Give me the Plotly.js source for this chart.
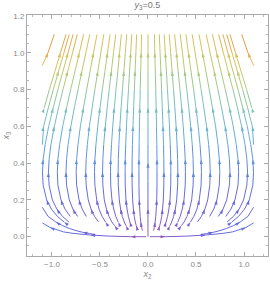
<!DOCTYPE html>
<html><head><meta charset="utf-8">
<script src="https://cdn.plot.ly/plotly-3.0.1.min.js"></script>
<style>html,body{margin:0;padding:0;background:#fff}#chart{width:270px;height:283px}</style>
</head><body><div id="chart"></div>
<script>
// x3 levels at which each streamline's x2 value is read (index i <-> levels[i])
const levels = [1.1,1.0,0.9,0.8,0.7,0.6,0.5,0.42,0.35,0.28,0.2,0.15,0.11,0.08,0.06,0.045,0.033,0.024,0.017,0.012];

// left half streamlines, x2 read at each level (flow goes up, toward index 0)
const leftB   = [-0.854,-0.911,-0.969,-1.027,-1.081];
const leftC   = [-0.820,-0.875,-0.931,-0.986,-1.038,-1.087,-1.100];
const leftU1  = [-0.780,-0.832,-0.885,-0.938,-0.987,-1.034,-1.071,-1.092,-1.099,-1.092,-1.055,-1.006,-0.943,-0.873];
const leftU2  = [-0.736,-0.785,-0.835,-0.885,-0.932,-0.975,-1.011,-1.030,-1.037,-1.030,-0.996,-0.949,-0.890,-0.824];
const leftU3  = [-0.670,-0.715,-0.760,-0.805,-0.848,-0.888,-0.920,-0.938,-0.944,-0.938,-0.906,-0.864,-0.810];
const leftU4  = [-0.606,-0.647,-0.688,-0.728,-0.767,-0.803,-0.832,-0.848,-0.854,-0.848,-0.820,-0.782,-0.733];
const leftU5  = [-0.531,-0.567,-0.603,-0.638,-0.672,-0.704,-0.729,-0.743,-0.748,-0.743,-0.718,-0.685,-0.642];
const leftU6  = [-0.460,-0.491,-0.522,-0.553,-0.582,-0.610,-0.632,-0.644,-0.648,-0.644,-0.622,-0.593,-0.556,-0.515];
const leftU7  = [-0.395,-0.421,-0.448,-0.475,-0.500,-0.523,-0.542,-0.553,-0.557,-0.553,-0.534,-0.510,-0.478,-0.442];
const leftU8  = [-0.336,-0.359,-0.381,-0.404,-0.425,-0.445,-0.461,-0.470,-0.473,-0.470,-0.455,-0.433,-0.406,-0.376,-0.348];
const leftU9  = [-0.277,-0.296,-0.314,-0.333,-0.351,-0.367,-0.380,-0.388,-0.390,-0.388,-0.375,-0.357,-0.335,-0.310];
const leftU10 = [-0.221,-0.236,-0.251,-0.266,-0.280,-0.293,-0.303,-0.309,-0.311,-0.309,-0.299,-0.285,-0.267,-0.247,-0.229];
const leftU11 = [-0.169,-0.180,-0.192,-0.203,-0.214,-0.224,-0.232,-0.237,-0.238,-0.237,-0.229,-0.218,-0.204,-0.189,-0.175];
const leftU12 = [-0.118,-0.126,-0.134,-0.142,-0.149,-0.156,-0.162,-0.165,-0.166,-0.165,-0.160,-0.152,-0.143,-0.132,-0.122,-0.113];
const leftU13 = [-0.067,-0.071,-0.076,-0.081,-0.085,-0.089,-0.092,-0.094,-0.094,-0.094,-0.091,-0.086,-0.081,-0.075,-0.069,-0.064,-0.058];

// right half streamlines
const rightB   = [0.854,0.911,0.969,1.027,1.081];
const rightC   = [0.820,0.875,0.931,0.986,1.038,1.087,1.100];
const rightU1  = [0.780,0.832,0.885,0.938,0.987,1.034,1.071,1.092,1.099,1.092,1.055,1.006,0.943,0.873];
const rightU2  = [0.736,0.785,0.835,0.885,0.932,0.975,1.011,1.030,1.037,1.030,0.996,0.949,0.890,0.824];
const rightU3  = [0.670,0.715,0.760,0.805,0.848,0.888,0.920,0.938,0.944,0.938,0.906,0.864,0.810];
const rightU4  = [0.606,0.647,0.688,0.728,0.767,0.803,0.832,0.848,0.854,0.848,0.820,0.782,0.733];
const rightU5  = [0.531,0.567,0.603,0.638,0.672,0.704,0.729,0.743,0.748,0.743,0.718,0.685,0.642];
const rightU6  = [0.460,0.491,0.522,0.553,0.582,0.610,0.632,0.644,0.648,0.644,0.622,0.593,0.556,0.515];
const rightU7  = [0.395,0.421,0.448,0.475,0.500,0.523,0.542,0.553,0.557,0.553,0.534,0.510,0.478,0.442];
const rightU8  = [0.336,0.359,0.381,0.404,0.425,0.445,0.461,0.470,0.473,0.470,0.455,0.433,0.406,0.376,0.348];
const rightU9  = [0.277,0.296,0.314,0.333,0.351,0.367,0.380,0.388,0.390,0.388,0.375,0.357,0.335,0.310];
const rightU10 = [0.221,0.236,0.251,0.266,0.280,0.293,0.303,0.309,0.311,0.309,0.299,0.285,0.267,0.247,0.229];
const rightU11 = [0.169,0.180,0.192,0.203,0.214,0.224,0.232,0.237,0.238,0.237,0.229,0.218,0.204,0.189,0.175];
const rightU12 = [0.118,0.126,0.134,0.142,0.149,0.156,0.162,0.165,0.166,0.165,0.160,0.152,0.143,0.132,0.122,0.113];
const rightU13 = [0.067,0.071,0.076,0.081,0.085,0.089,0.092,0.094,0.094,0.094,0.091,0.086,0.081,0.075,0.069,0.064,0.058];

// free streamlines, points listed in flow order
const leftAx = [-1.1,-1.041,-0.976],  leftAy = [0.93,1.0,1.1];
const rightAx = [1.1,1.041,0.976],    rightAy = [0.93,1.0,1.1];
const centerX = [0,0,0,0,0,0,0,0,0,0,0,0,0,0];
const centerY = [0,0.05,0.1,0.15,0.2,0.3,0.4,0.5,0.6,0.7,0.8,0.9,1.0,1.1];
const leftBottomX  = [-0.02,-0.18,-0.4,-0.6,-0.78,-0.88,-1.02,-1.1];
const leftBottomY  = [0,0,0.003,0.009,0.018,0.026,0.05,0.075];
const rightBottomX = [0.02,0.18,0.4,0.6,0.78,0.88,1.02,1.1];
const rightBottomY = [0,0,0.003,0.009,0.018,0.026,0.05,0.075];
const leftLongX  = [-0.55,-0.61,-0.68,-0.75,-0.82,-0.89,-0.96,-1.04,-1.1];
const leftLongY  = [0.012,0.017,0.024,0.033,0.045,0.06,0.08,0.11,0.16];
const rightLongX = [0.55,0.61,0.68,0.75,0.82,0.89,0.96,1.04,1.1];
const rightLongY = [0.012,0.017,0.024,0.033,0.045,0.06,0.08,0.11,0.16];

// colour stops for speed (slow -> fast)
const colorStops = [[0,'#a05cb8'],[0.12,'#7060d8'],[0.25,'#5a7ee6'],[0.4,'#64acdf'],[0.55,'#7cc4b4'],[0.68,'#aecb74'],[0.8,'#dcc258'],[0.9,'#eb9c44'],[1,'#ec6434']];

// ---------- build streamlines ----------
const lines = [];
function tableLine(xs, arrowIdx){
  const x=[], y=[];
  for(let i=xs.length-1;i>=0;i--){ x.push(xs[i]); y.push(levels[i]); }
  const n=xs.length; const arr=[];
  arrowIdx.forEach(i=>{ if(i<n) arr.push(n-1-i); });
  lines.push({x,y,arrows:arr});
}
const P=[1,4,7,10,13], Q=[2,5,8,11,14];
[[leftB,P],[leftC,Q],[leftU1,P],[leftU2,Q],[leftU3,P],[leftU4,Q],[leftU5,P],[leftU6,Q],[leftU7,P],[leftU8,Q],[leftU9,P],[leftU10,Q],[leftU11,P],[leftU12,Q],[leftU13,P],
 [rightB,P],[rightC,Q],[rightU1,P],[rightU2,Q],[rightU3,P],[rightU4,Q],[rightU5,P],[rightU6,Q],[rightU7,P],[rightU8,Q],[rightU9,P],[rightU10,Q],[rightU11,P],[rightU12,Q],[rightU13,P]]
 .forEach(d=>tableLine(d[0],d[1]));
lines.push({x:leftAx,y:leftAy,arrows:[1]});
lines.push({x:rightAx,y:rightAy,arrows:[1]});
lines.push({x:centerX,y:centerY,arrows:[3,6,9,12]});
lines.push({x:leftBottomX,y:leftBottomY,arrows:[1,3,6]});
lines.push({x:rightBottomX,y:rightBottomY,arrows:[1,3,6]});
lines.push({x:leftLongX,y:leftLongY,arrows:[2,6]});
lines.push({x:rightLongX,y:rightLongY,arrows:[2,6]});

function hex(c){return [parseInt(c.slice(1,3),16),parseInt(c.slice(3,5),16),parseInt(c.slice(5,7),16)];}
function colorAt(t){
  t=Math.max(0,Math.min(1,t));
  for(let i=1;i<colorStops.length;i++){
    if(t<=colorStops[i][0]){
      const a=colorStops[i-1], b=colorStops[i]; const f=(t-a[0])/(b[0]-a[0]);
      const ca=hex(a[1]), cb=hex(b[1]);
      return 'rgb('+ca.map((v,k)=>Math.round(v+(cb[k]-v)*f)).join(',')+')';
    }
  }
  return colorStops[colorStops.length-1][1];
}
function speedT(x,y){ const u=x*(1-2.9*y), v=3*y; return Math.sqrt(u*u+v*v)/4.2; }

const NB=48; const bins=[]; for(let i=0;i<NB;i++) bins.push({x:[],y:[]});
const ax=[], ay=[], aang=[], acol=[];
const xr=[-1.26,1.25], yr=[-0.105,1.205];
const W=270-27-2, H=283-15-27;
const sx=W/(xr[1]-xr[0]), sy=H/(yr[1]-yr[0]);
lines.forEach(L=>{
  for(let i=0;i<L.x.length-1;i++){
    const t=speedT((L.x[i]+L.x[i+1])/2,(L.y[i]+L.y[i+1])/2);
    const b=Math.min(NB-1,Math.floor(t*NB));
    bins[b].x.push(L.x[i],L.x[i+1],null); bins[b].y.push(L.y[i],L.y[i+1],null);
  }
  L.arrows.forEach(i=>{
    const i0=Math.max(0,i-1), i1=Math.min(L.x.length-1,i+1);
    const dx=(L.x[i1]-L.x[i0])*sx, dy=(L.y[i1]-L.y[i0])*sy;
    ax.push(L.x[i]); ay.push(L.y[i]);
    aang.push(Math.atan2(dx,dy)*180/Math.PI);
    acol.push(colorAt(speedT(L.x[i],L.y[i])));
  });
});
const traces=[];
bins.forEach((b,i)=>{ if(b.x.length) traces.push({type:'scatter',mode:'lines',x:b.x,y:b.y,hoverinfo:'skip',
  line:{color:colorAt((i+0.5)/NB),width:1.0},showlegend:false}); });
traces.push({type:'scatter',mode:'markers',x:ax,y:ay,hoverinfo:'skip',showlegend:false,
  marker:{symbol:'arrow',size:5,angle:aang,color:acol,line:{width:0}}});

const tickFont={family:'Liberation Sans, Arial, sans-serif',size:8,color:'#8a8a8a'};
const layout={
  width:270,height:283,margin:{l:27,r:2,t:15,b:27},
  paper_bgcolor:'#fff',plot_bgcolor:'#fff',
  title:{text:'<i>y</i><sub>3</sub>=0.5',font:{family:'Liberation Sans, Arial, sans-serif',size:9,color:'#777'},
    x:0.5,xref:'paper',xanchor:'center',y:1,yref:'container',yanchor:'top',pad:{t:2}},
  xaxis:{range:xr,tick0:0,dtick:0.5,tickformat:'.1f',ticks:'inside',ticklen:4,tickcolor:'#aaa',
    minor:{dtick:0.1,ticks:'inside',ticklen:2,tickcolor:'#bbb'},
    showline:true,linecolor:'#aaa',linewidth:1,mirror:'ticks',zeroline:false,showgrid:false,
    tickfont:tickFont,title:{text:'<i>x</i><sub>2</sub>',font:{family:'Liberation Sans, Arial, sans-serif',size:9,color:'#888'},standoff:3}},
  yaxis:{range:yr,tick0:0,dtick:0.2,tickformat:'.1f',ticks:'inside',ticklen:4,tickcolor:'#aaa',
    minor:{dtick:0.05,ticks:'inside',ticklen:2,tickcolor:'#bbb'},
    showline:true,linecolor:'#aaa',linewidth:1,mirror:'ticks',zeroline:false,showgrid:false,
    tickfont:tickFont,title:{text:'<i>x</i><sub>3</sub>',font:{family:'Liberation Sans, Arial, sans-serif',size:9,color:'#888'},standoff:2}}
};
Plotly.newPlot('chart',traces,layout,{staticPlot:true,displayModeBar:false});
</script></body></html>
